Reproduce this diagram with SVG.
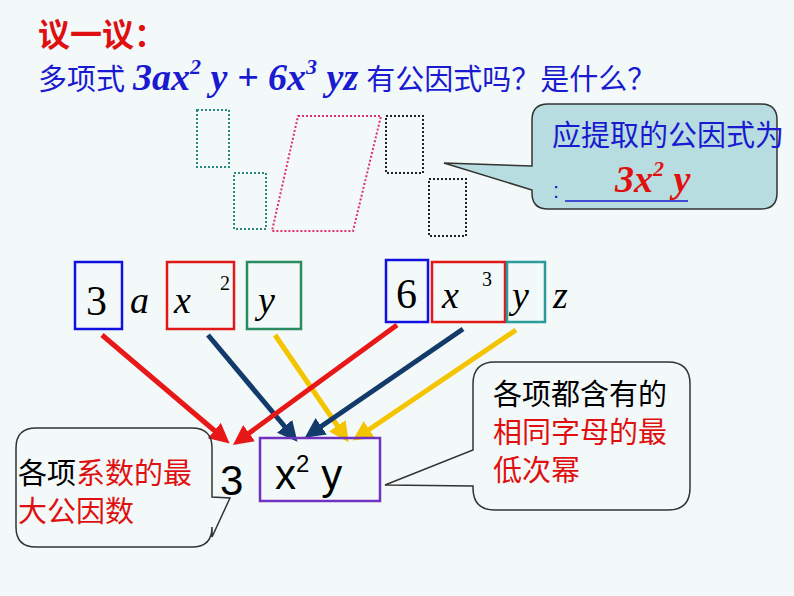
<svg xmlns="http://www.w3.org/2000/svg" width="794" height="596" viewBox="0 0 794 596">
<defs>
<style>
.cj{font-family:"Liberation Sans","Noto Sans CJK SC",sans-serif}
.tm{font-family:"Liberation Serif",serif;font-style:italic}
.tn{font-family:"Liberation Serif",serif}
.mb{font-family:"Liberation Serif",serif;font-style:italic;font-weight:bold}
.dot{fill:none;stroke-width:2;stroke-dasharray:2 2}
.box{fill:none;stroke-width:2.5}
.ar{stroke-width:5;fill:none}
.cl{fill:none;stroke:#333;stroke-width:1.5}
</style>
<marker id="mr" markerWidth="4" markerHeight="4" refX="2" refY="2" orient="auto"><path d="M0,0L4,2L0,4z" fill="#e81818"/></marker>
<marker id="mn" markerWidth="4" markerHeight="4" refX="2" refY="2" orient="auto"><path d="M0,0L4,2L0,4z" fill="#123a6a"/></marker>
<marker id="my" markerWidth="4" markerHeight="4" refX="2" refY="2" orient="auto"><path d="M0,0L4,2L0,4z" fill="#f5c400"/></marker>
</defs>
<rect width="794" height="596" fill="#f3f9f9"/>
<g id="title">
<text x="38" y="46" class="cj" font-size="32" fill="#e01010" font-weight="bold">议一议：</text>
<text x="38" y="90" class="cj" font-size="29" fill="#1a1ad0">多项式 <tspan class="mb" font-size="38">3ax<tspan dy="-16" font-size="22">2</tspan><tspan dy="16"> y + 6x</tspan><tspan dy="-16" font-size="22">3</tspan><tspan dy="16"> yz</tspan></tspan> 有公因式吗？是什么？</text>
</g>
<g id="dotted">
<rect x="197" y="110" width="32" height="57" class="dot" stroke="#2a8a80"/>
<rect x="234" y="173" width="32" height="56" class="dot" stroke="#2a8a80"/>
<path d="M298,116H381L353,231H272Z" class="dot" stroke="#e0306a"/>
<rect x="386" y="116" width="37" height="57" class="dot" stroke="#222"/>
<rect x="429" y="179" width="37" height="57" class="dot" stroke="#222"/>
</g>
<g id="callout-top">
<path d="M548,104H761Q777,104 777,120V193Q777,209 761,209H548Q532,209 532,193V190L444,163L532,166V120Q532,104 548,104Z" fill="#b8dde0" stroke="#333" stroke-width="1.5"/>
<text x="552" y="146" class="cj" font-size="29" fill="#1a1ad0">应提取的公因式为</text>
<text x="553" y="198" class="cj" font-size="22" fill="#1a1ad0">:</text>
<line x1="565" y1="201" x2="688" y2="201" stroke="#1a1ad0" stroke-width="1.5"/>
<text x="615" y="192" class="mb" font-size="38" fill="#e01010">3x<tspan dy="-16" font-size="22">2</tspan><tspan dy="16"> y</tspan></text>
</g>
<g id="terms">
<rect x="75" y="262" width="47" height="67" class="box" stroke="#1010e0"/>
<text x="86" y="315" class="tn" font-size="42">3</text>
<text x="130" y="313" class="tm" font-size="38">a</text>
<rect x="167" y="262" width="67" height="67" class="box" stroke="#e01818"/>
<text x="174" y="313" class="tm" font-size="38">x</text>
<text x="220" y="290" class="tn" font-size="20">2</text>
<rect x="247" y="262" width="54" height="67" class="box" stroke="#2a8a60"/>
<text x="258" y="313" class="tm" font-size="38">y</text>
<rect x="386" y="260" width="42" height="62" class="box" stroke="#1010e0"/>
<text x="396" y="308" class="tn" font-size="42">6</text>
<rect x="432" y="262" width="73" height="60" class="box" stroke="#e01818"/>
<text x="442" y="308" class="tm" font-size="38">x</text>
<text x="482" y="286" class="tn" font-size="20">3</text>
<rect x="507" y="262" width="38" height="60" class="box" stroke="#2a9a9a"/>
<text x="512" y="308" class="tm" font-size="38">y</text>
<text x="553" y="308" class="tm" font-size="38">z</text>
</g>
<g id="connectors">
<line x1="102" y1="335" x2="222" y2="437" class="ar" stroke="#e81818" marker-end="url(#mr)"/>
<line x1="208" y1="335" x2="291" y2="434" class="ar" stroke="#123a6a" marker-end="url(#mn)"/>
<line x1="275" y1="335" x2="343" y2="434" class="ar" stroke="#f5c400" marker-end="url(#my)"/>
<line x1="397" y1="325" x2="241" y2="439" class="ar" stroke="#e81818" marker-end="url(#mr)"/>
<line x1="463" y1="329" x2="313" y2="432" class="ar" stroke="#123a6a" marker-end="url(#mn)"/>
<line x1="516" y1="330" x2="361" y2="435" class="ar" stroke="#f5c400" marker-end="url(#my)"/>
</g>
<g id="result">
<text x="220" y="495" class="cj" font-size="42">3</text>
<rect x="260" y="438" width="120" height="63" fill="none" stroke="#7030c0" stroke-width="2.5"/>
<text x="275" y="489" class="cj" font-size="42">x<tspan dy="-17" font-size="24">2</tspan><tspan dy="17" dx="12">y</tspan></text>
</g>
<g id="callout-left">
<path d="M36,428H192Q212,428 212,448V497L230,498L212,537V527Q212,547 192,547H36Q16,547 16,527V448Q16,428 36,428Z" class="cl"/>
<text x="18" y="484" class="cj" font-size="29"><tspan fill="#000">各项</tspan><tspan fill="#e01010">系数的最</tspan></text>
<text x="18" y="522" class="cj" font-size="29" fill="#e01010">大公因数</text>
</g>
<g id="callout-right">
<path d="M495,362H668Q690,362 690,384V488Q690,510 668,510H495Q473,510 473,488V486L385,485L473,450V384Q473,362 495,362Z" class="cl"/>
<text x="493" y="405" class="cj" font-size="29" fill="#000">各项都含有的</text>
<text x="493" y="443" class="cj" font-size="29" fill="#e01010">相同字母的最</text>
<text x="493" y="481" class="cj" font-size="29" fill="#e01010">低次幂</text>
</g>
</svg>
